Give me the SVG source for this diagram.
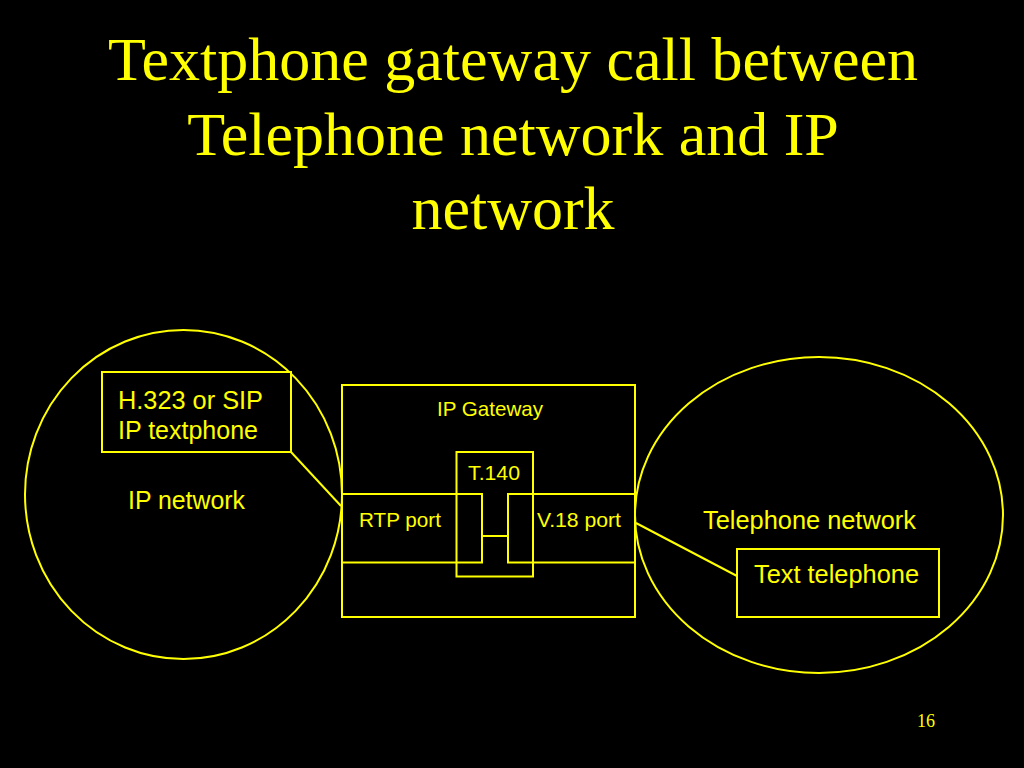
<svg xmlns="http://www.w3.org/2000/svg" width="1024" height="768" viewBox="0 0 1024 768">
<style>
.s{fill:none;stroke:#ffff00;stroke-width:2}
.b{fill:#000;stroke:#ffff00;stroke-width:2}
.t{fill:#ffff00;font-family:"Liberation Sans",Arial,sans-serif}
.ti{fill:#ffff00;font-family:"Liberation Serif","Times New Roman",serif;font-size:62px;text-anchor:middle}
</style>
<rect width="1024" height="768" fill="#000"/>
<g id="title">
<text class="ti" x="513" y="80">Textphone gateway call between</text>
<text class="ti" x="513" y="155">Telephone network and IP</text>
<text class="ti" x="513" y="229">network</text>
</g>
<g id="ip-network">
<ellipse class="s" cx="183.5" cy="494.5" rx="158.5" ry="164.5"/>
<text class="t" x="128" y="509" font-size="26" textLength="117" lengthAdjust="spacingAndGlyphs">IP network</text>
</g>
<g id="ip-textphone">
<rect class="b" x="102" y="372" width="189" height="80"/>
<text class="t" x="118" y="409" font-size="26" textLength="145" lengthAdjust="spacingAndGlyphs">H.323 or SIP</text>
<text class="t" x="118" y="439" font-size="26" textLength="140" lengthAdjust="spacingAndGlyphs">IP textphone</text>
</g>
<g id="telephone-network">
<ellipse class="s" cx="819" cy="515" rx="184" ry="158"/>
<text class="t" x="703" y="529" font-size="26" textLength="213" lengthAdjust="spacingAndGlyphs">Telephone network</text>
</g>
<g id="text-telephone">
<rect class="b" x="737" y="549" width="202" height="68"/>
<text class="t" x="754" y="583" font-size="26" textLength="165" lengthAdjust="spacingAndGlyphs">Text telephone</text>
</g>
<g id="ip-gateway">
<rect class="s" x="342" y="385" width="293" height="232"/>
<text class="t" x="437" y="416" font-size="21" textLength="106" lengthAdjust="spacingAndGlyphs">IP Gateway</text>
</g>
<g id="t140">
<rect class="s" x="456.5" y="452" width="76.5" height="124.5"/>
<text class="t" x="468" y="480" font-size="21" textLength="52" lengthAdjust="spacingAndGlyphs">T.140</text>
</g>
<g id="rtp-port">
<rect class="s" x="342" y="494" width="140" height="68.5"/>
<text class="t" x="359" y="527" font-size="21" textLength="82" lengthAdjust="spacingAndGlyphs">RTP port</text>
</g>
<g id="v18-port">
<rect class="s" x="508" y="494" width="127" height="68.5"/>
<text class="t" x="537" y="527" font-size="21" textLength="84" lengthAdjust="spacingAndGlyphs">V.18 port</text>
</g>
<g id="connectors">
<line class="s" x1="291" y1="452" x2="341" y2="506"/>
<line class="s" x1="482" y1="536" x2="508" y2="536"/>
<line class="s" x1="636" y1="523" x2="737" y2="576"/>
</g>
<text x="926" y="727" font-family="Liberation Serif,serif" font-size="18" fill="#ffff00" text-anchor="middle">16</text>
</svg>
